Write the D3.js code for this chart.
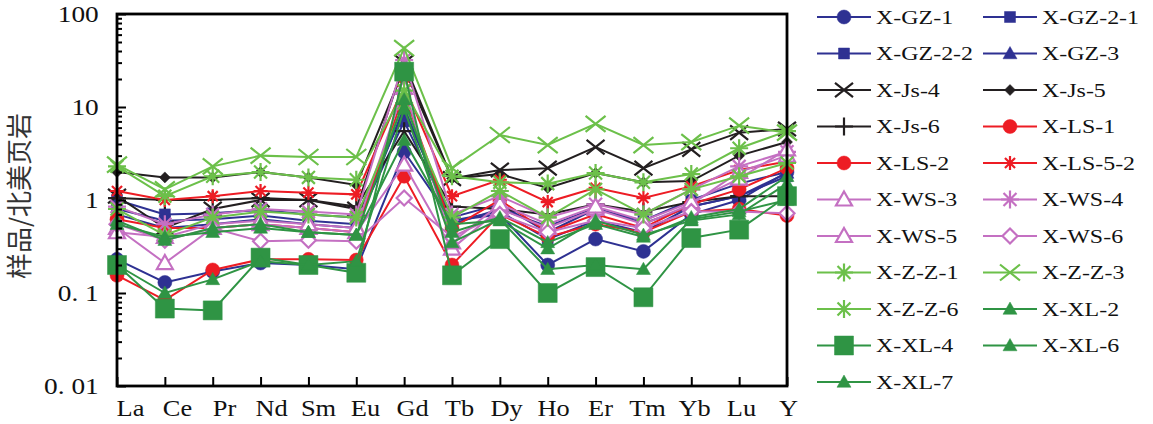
<!DOCTYPE html>
<html>
<head>
<meta charset="utf-8">
<script src="https://cdn.jsdelivr.net/npm/d3@7"></script>
<style>
  body { margin: 0; background: #fff; }
  svg { display: block; }
</style>
</head>
<body>
<div id="chart"></div>
<script>
// REE elements on the x axis
const elements = ["La", "Ce", "Pr", "Nd", "Sm", "Eu", "Gd", "Tb", "Dy", "Ho", "Er", "Tm", "Yb", "Lu", "Y"];
const yTicks = [100, 10, 1, 0.1, 0.01];
const yTickLabels = ["100", "10", "1", "0. 1", "0. 01"];

// sample / NASC values
const gz1  = [0.23, 0.13, 0.17, 0.21, 0.2, 0.18, 3.3, 0.6, 0.7, 0.2, 0.38, 0.28, 0.7, 1.0, 2.0];
const gz21 = [1.0, 0.7, 0.72, 0.78, 0.7, 0.65, 9, 0.65, 0.9, 0.45, 0.8, 0.6, 1.0, 1.5, 2.0];
const gz22 = [0.8, 0.6, 0.62, 0.68, 0.6, 0.55, 7, 0.6, 0.75, 0.38, 0.6, 0.45, 0.85, 1.1, 1.8];
const gz3  = [0.7, 0.5, 0.55, 0.62, 0.55, 0.5, 10, 0.55, 0.8, 0.52, 0.82, 0.56, 0.85, 1.1, 1.95];
const js4  = [1.1, 0.5, 0.8, 1.0, 1.0, 0.8, 30, 1.7, 2.1, 2.2, 3.7, 2.2, 3.5, 5.3, 5.8];
const js5  = [2.0, 1.75, 1.75, 2.0, 1.75, 1.45, 26, 1.7, 1.9, 1.35, 1.95, 1.55, 1.6, 3.0, 4.2];
const js6  = [1.05, 1.0, 1.0, 1.05, 1.0, 0.85, 5.5, 0.85, 0.8, 0.7, 0.9, 0.75, 0.95, 1.1, 1.1];
const ls1  = [0.155, 0.084, 0.177, 0.23, 0.23, 0.226, 1.8, 0.2, 0.7, 0.4, 0.55, 0.45, 0.75, 0.8, 0.68];
const ls2  = [0.62, 0.5, 0.5, 0.55, 0.5, 0.45, 14, 0.5, 1.0, 0.45, 0.7, 0.5, 0.9, 1.3, 2.2];
const ls52 = [1.25, 1.0, 1.1, 1.25, 1.2, 1.15, 17, 1.1, 1.65, 0.95, 1.35, 1.05, 1.4, 2.1, 2.6];
const ws3  = [0.5, 0.21, 0.5, 0.55, 0.5, 0.45, 2.4, 0.3, 0.8, 0.5, 0.8, 0.55, 0.9, 2.0, 3.0];
const ws4  = [0.85, 0.55, 0.7, 0.8, 0.75, 0.7, 32, 0.7, 1.1, 0.65, 0.9, 0.7, 1.3, 2.3, 3.3];
const ws5  = [0.45, 0.4, 0.55, 0.6, 0.55, 0.5, 16, 0.35, 0.9, 0.55, 0.85, 0.6, 0.95, 1.7, 3.5];
const ws6  = [0.55, 0.37, 0.5, 0.36, 0.37, 0.36, 1.05, 0.4, 0.7, 0.45, 0.6, 0.5, 0.75, 0.75, 0.72];
const zz1  = [2.3, 1.1, 1.8, 2.0, 1.75, 1.65, 15, 1.8, 1.55, 1.5, 1.95, 1.55, 1.9, 3.6, 5.5];
const zz3  = [2.4, 1.3, 2.3, 3.0, 2.9, 2.9, 43, 2.2, 5.0, 3.9, 6.6, 3.9, 4.2, 6.3, 5.3];
const zz6  = [0.8, 0.42, 0.65, 0.75, 0.7, 0.65, 11, 0.65, 1.25, 0.65, 1.3, 0.7, 1.3, 1.8, 2.5];
const xl2  = [0.55, 0.4, 0.45, 0.5, 0.45, 0.42, 12, 0.45, 0.65, 0.35, 0.55, 0.4, 0.65, 0.8, 1.8];
const xl4  = [0.2, 0.068, 0.065, 0.24, 0.2, 0.165, 24, 0.155, 0.38, 0.1, 0.19, 0.09, 0.39, 0.48, 1.1];
const xl6  = [0.6, 0.37, 0.5, 0.55, 0.45, 0.42, 4.4, 0.55, 0.6, 0.3, 0.6, 0.42, 0.6, 0.7, 1.5];
const xl7  = [0.2, 0.1, 0.14, 0.22, 0.2, 0.22, 9.5, 0.35, 0.62, 0.18, 0.2, 0.18, 0.62, 0.75, 1.0];

const sampleNames = ["X-GZ-1", "X-GZ-2-1", "X-GZ-2-2", "X-GZ-3", "X-Js-4", "X-Js-5", "X-Js-6",
  "X-LS-1", "X-LS-2", "X-LS-5-2", "X-WS-3", "X-WS-4", "X-WS-5", "X-WS-6",
  "X-Z-Z-1", "X-Z-Z-3", "X-Z-Z-6", "X-XL-2", "X-XL-4", "X-XL-6", "X-XL-7"];
const sampleValues = [gz1, gz21, gz22, gz3, js4, js5, js6, ls1, ls2, ls52, ws3, ws4, ws5, ws6,
  zz1, zz3, zz6, xl2, xl4, xl6, xl7];

let color = {
  blue: '#2e3192',
  black: '#231f20',
  red: '#ed1c24',
  pink: '#c470c2',
  lgreen: '#6cc04a',
  dgreen: '#2f9444'
};

// marker style per sample: [colour, shape, size, filled]
let styles = [
  [color.blue, 'circle', 14, true],
  [color.blue, 'square', 11, true],
  [color.blue, 'square', 11, true],
  [color.blue, 'triangle', 14, true],
  [color.black, 'x', 18, false],
  [color.black, 'diamond', 11, true],
  [color.black, 'plus', 18, false],
  [color.red, 'circle', 14, true],
  [color.red, 'circle', 14, true],
  [color.red, 'star', 14, false],
  [color.pink, 'triangle', 16, 'open'],
  [color.pink, 'star', 18, false],
  [color.pink, 'triangle', 16, 'open'],
  [color.pink, 'diamond', 15, 'open'],
  [color.lgreen, 'star', 18, false],
  [color.lgreen, 'x', 20, false],
  [color.lgreen, 'star', 18, false],
  [color.dgreen, 'triangle', 14, true],
  [color.dgreen, 'square', 19, true],
  [color.dgreen, 'triangle', 14, true],
  [color.dgreen, 'triangle', 14, true]
];

let width = 1153;
let height = 424;
let plot = { left: 117, right: 787, top: 14, bottom: 386 };

function markerPath(shape, s) {
  const h = s / 2;
  switch (shape) {
    case 'circle':
      return `M${-h},0A${h},${h} 0 1,1 ${h},0A${h},${h} 0 1,1 ${-h},0Z`;
    case 'square':
      return `M${-h},${-h}H${h}V${h}H${-h}Z`;
    case 'triangle':
      return `M0,${-h}L${h},${h * 0.75}L${-h},${h * 0.75}Z`;
    case 'diamond':
      return `M0,${-h}L${h},0L0,${h}L${-h},0Z`;
    case 'x':
      return `M${-h},${-h * 0.8}L${h},${h * 0.8}M${h},${-h * 0.8}L${-h},${h * 0.8}`;
    case 'plus':
      return `M${-h},0H${h}M0,${-h}V${h}`;
    default: {
      const d = h * 0.72;
      return `M${-d},${-d}L${d},${d}M${d},${-d}L${-d},${d}M0,${-h}V${h}M${-h},0H${h}`;
    }
  }
}

function styleMarker(sel, st) {
  const [c, shape, size, filled] = st;
  sel.attr('d', markerPath(shape, size))
    .attr('fill', filled === true ? c : (filled === 'open' ? '#fff' : 'none'))
    .attr('stroke', c)
    .attr('stroke-width', filled === true ? 0.5 : 2.2)
    .attr('stroke-linejoin', 'miter');
}

const series = sampleNames.map((name, i) => ({
  name: name,
  style: styles[i],
  values: elements.map((el, j) => ({ el: el, v: sampleValues[i][j] }))
}));

let x = d3.scalePoint()
  .domain(elements)
  .range([plot.left, plot.right]);

// tick labels sit a bit right of the ticks in the original
let xLabel = d3.scalePoint()
  .domain(elements)
  .range([plot.left + 13, plot.right + 1]);

let y = d3.scaleLog()
  .domain([0.01, 100])
  .range([plot.bottom, plot.top]);

const svg = d3.select("#chart").append("svg")
  .attr('width', width)
  .attr('height', height)
  .style('font-family', '"Liberation Serif", "Times New Roman", serif');

// lines + markers
const lineGen = d3.line()
  .x(d => x(d.el))
  .y(d => y(d.v));

const sg = svg.append('g')
  .selectAll('g')
  .data(series)
  .enter().append('g');

sg.append('path')
  .attr('d', d => lineGen(d.values))
  .attr('fill', 'none')
  .attr('stroke', d => d.style[0])
  .attr('stroke-width', 2);

sg.each(function (s) {
  d3.select(this).selectAll('path.mk')
    .data(s.values)
    .enter().append('path')
    .attr('class', 'mk')
    .attr('transform', d => `translate(${x(d.el)},${y(d.v)})`)
    .call(styleMarker, s.style);
});

// minor y ticks
let minors = [];
[0.01, 0.1, 1, 10].forEach(dec => {
  for (let k = 2; k <= 9; k++) minors.push(dec * k);
});

svg.append('g')
  .attr('transform', `translate(${plot.left},0)`)
  .call(d3.axisLeft(y).tickValues(minors).tickSize(-5).tickFormat(''))
  .call(g => g.select('.domain').remove())
  .selectAll('line')
  .attr('stroke', '#000')
  .attr('stroke-width', 2);

const gy = svg.append('g')
  .attr('transform', `translate(${plot.left},0)`)
  .call(d3.axisLeft(y).tickValues(yTicks).tickSize(-9).tickPadding(16)
    .tickFormat((d, i) => yTickLabels[i]));
gy.select('.domain').remove();
gy.selectAll('line').attr('stroke', '#000').attr('stroke-width', 2);
gy.selectAll('text')
  .attr('font-size', 24)
  .attr('fill', '#111')
  .attr('font-family', '"Liberation Serif", serif')
  .attr('transform', 'scale(1.14,1)');

const gx = svg.append('g')
  .attr('transform', `translate(0,${plot.bottom})`)
  .call(d3.axisBottom(x).tickSize(-9).tickFormat(''));
gx.select('.domain').remove();
gx.selectAll('line').attr('stroke', '#000').attr('stroke-width', 2);

const gxl = svg.append('g')
  .attr('transform', `translate(0,${plot.bottom})`)
  .call(d3.axisBottom(xLabel).tickSize(0).tickPadding(13));
gxl.select('.domain').remove();
gxl.selectAll('text')
  .attr('font-size', 24)
  .attr('fill', '#111')
  .attr('font-family', '"Liberation Serif", serif')
  .attr('transform', 'scale(1.1,1)');

// frame
svg.append('rect')
  .attr('x', plot.left)
  .attr('y', plot.top)
  .attr('width', plot.right - plot.left)
  .attr('height', plot.bottom - plot.top)
  .attr('fill', 'none')
  .attr('stroke', '#000')
  .attr('stroke-width', 2.8);

svg.append('text')
  .attr('transform', 'translate(29,196) rotate(-90)')
  .attr('text-anchor', 'middle')
  .attr('font-family', '"Noto Sans CJK SC", sans-serif')
  .attr('font-size', 26)
  .attr('fill', '#333')
  .text('样品/北美页岩');

// legend, two columns
const legend = svg.append('g')
  .selectAll('g')
  .data(series)
  .enter().append('g')
  .attr('transform', (d, i) => `translate(${i % 2 === 0 ? 817 : 983},${17 + Math.floor(i / 2) * 36.5})`);

legend.append('line')
  .attr('x1', 0)
  .attr('x2', 54)
  .attr('stroke', d => d.style[0])
  .attr('stroke-width', 2);

legend.append('path')
  .attr('transform', 'translate(27,0)')
  .each(function (d) { d3.select(this).call(styleMarker, d.style); });

legend.append('text')
  .attr('transform', 'translate(59,0) scale(1.26,1)')
  .attr('dy', '0.35em')
  .attr('font-size', 19)
  .attr('fill', '#111')
  .text(d => d.name);
</script>
</body>
</html>
